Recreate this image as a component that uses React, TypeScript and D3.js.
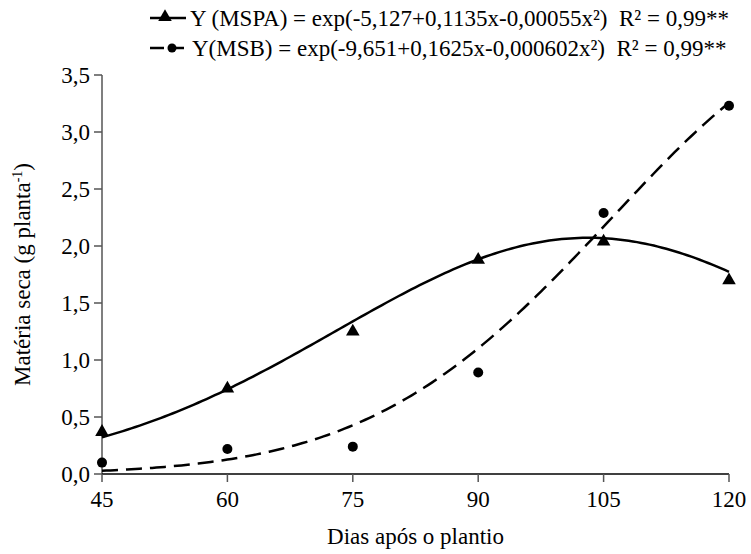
import React from "react";
import * as d3 from "d3";

const days = [45, 60, 75, 90, 105, 120];
const mspa = [0.36, 0.74, 1.24, 1.87, 2.03, 1.69];
const msb = [0.1, 0.22, 0.24, 0.89, 2.29, 3.23];
const coefMSPA = [-5.127, 0.1135, -0.00055];
const coefMSB = [-9.651, 0.1625, -0.000602];
const yTicks = [0, 0.5, 1, 1.5, 2, 2.5, 3, 3.5];
const legendLabels = [
  "Y (MSPA) = exp(-5,127+0,1135x-0,00055x²)\u00a0\u00a0R² = 0,99**",
  "Y(MSB) = exp(-9,651+0,1625x-0,000602x²)\u00a0\u00a0R² = 0,99**",
];

const W = 751, H = 554;
const left = 102, right = 729, top = 75, bottom = 474;
const fs = 23;
const FF = "Liberation Serif";

export default function App() {
  const x = d3.scaleLinear().domain([45, 120]).range([left, right]);
  const y = d3.scaleLinear().domain([0, 3.5]).range([bottom, top]);
  const fit = (c: number[]) => (t: number) => Math.exp(c[0] + c[1] * t + c[2] * t * t);
  const xs = d3.range(45, 120.01, 0.5);
  const pathA = d3.line<number>().x((t) => x(t)).y((t) => y(fit(coefMSPA)(t)))(xs) || "";
  const pathB = d3.line<number>().x((t) => x(t)).y((t) => y(fit(coefMSB)(t)))(xs) || "";
  const tri = d3.symbol().type(d3.symbolTriangle).size(80)() || "";
  const axisColor = "#555";
  return (
    <svg width={W} height={H} style={{ display: "block", position: "absolute", left: 0, top: 0 }}>
      <rect width={W} height={H} fill="#fff" />
      <g>
        <line x1={150} x2={186} y1={18} y2={18} stroke="#000" strokeWidth={2.5} />
        <path d={tri} transform={`translate(165,17)`} fill="#000" />
        <text x={190} y={26} fontFamily={FF} fontSize={fs}>{legendLabels[0]}</text>
        <line x1={150} x2={188} y1={48} y2={48} stroke="#000" strokeWidth={2.5} strokeDasharray="14,6" />
        <circle cx={172} cy={48} r={4.5} fill="#000" />
        <text x={192} y={56} fontFamily={FF} fontSize={fs}>{legendLabels[1]}</text>
      </g>
      <line x1={left} x2={left} y1={top} y2={bottom} stroke={axisColor} strokeWidth={1.5} />
      <line x1={left} x2={right} y1={bottom} y2={bottom} stroke="#000" strokeWidth={1.5} />
      {yTicks.map((t) => (
        <g key={t}>
          <line x1={left - 8} x2={left} y1={y(t)} y2={y(t)} stroke={axisColor} strokeWidth={1.5} />
          <text x={left - 12} y={y(t) + 8} fontFamily={FF} fontSize={fs} textAnchor="end">
            {d3.format(".1f")(t).replace(".", ",")}
          </text>
        </g>
      ))}
      {days.map((d) => (
        <g key={d}>
          <line x1={x(d)} x2={x(d)} y1={bottom} y2={bottom + 8} stroke={axisColor} strokeWidth={1.5} />
          <text x={x(d)} y={bottom + 33} fontFamily={FF} fontSize={fs} textAnchor="middle">{d}</text>
        </g>
      ))}
      <text x={(left + right) / 2} y={544} fontFamily={FF} fontSize={fs} textAnchor="middle">Dias após o plantio</text>
      <text transform={`translate(30,${(top + bottom) / 2}) rotate(-90)`} fontFamily={FF} fontSize={fs} textAnchor="middle">
        Matéria seca (g planta<tspan dy={-8} fontSize={14}>-1</tspan><tspan dy={8}>)</tspan>
      </text>
      <path d={pathA} fill="none" stroke="#000" strokeWidth={2.5} />
      <path d={pathB} fill="none" stroke="#000" strokeWidth={2.5} strokeDasharray="16,8" />
      {days.map((d, i) => (
        <path key={"a" + d} d={tri} transform={`translate(${x(d)},${y(mspa[i]) - 1})`} fill="#000" />
      ))}
      {days.map((d, i) => (
        <circle key={"b" + d} cx={x(d)} cy={y(msb[i])} r={5} fill="#000" />
      ))}
    </svg>
  );
}
